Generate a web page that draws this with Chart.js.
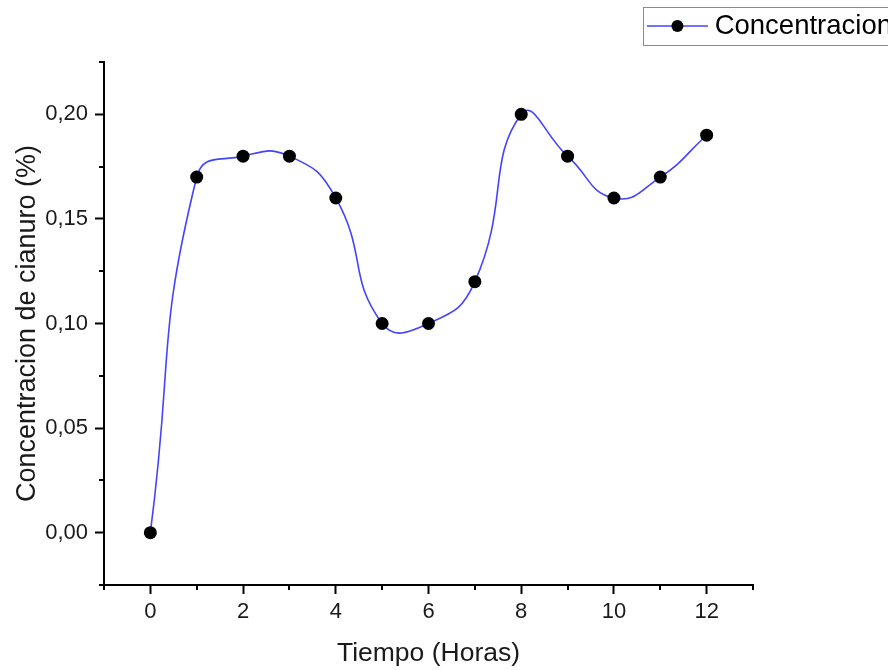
<!DOCTYPE html>
<html>
<head>
<meta charset="utf-8">
<script src="https://cdn.jsdelivr.net/npm/chart.js@4.4.1/dist/chart.umd.min.js"></script>
<style>
    html, body { margin: 0; padding: 0; background: #fff; overflow: hidden; }
    #wrap { width: 888px; height: 670px; overflow: hidden; }
    #box { width: 900px; height: 670px; position: relative; }
</style>
</head>
<body>
<div id="wrap"><div id="box"><canvas id="chart"></canvas></div></div>
<script>
const horas = [0, 1, 2, 3, 4, 5, 6, 7, 8, 9, 10, 11, 12];
const cianuro = [0.00, 0.17, 0.18, 0.18, 0.16, 0.10, 0.10, 0.12, 0.20, 0.18, 0.16, 0.17, 0.19];
const xMajor = [0, 2, 4, 6, 8, 10, 12];
const xMinor = [-1, 1, 3, 5, 7, 9, 11, 13];
const yMajor = [0, 0.05, 0.10, 0.15, 0.20];
const yMinor = [-0.025, 0.025, 0.075, 0.125, 0.175, 0.225];
const serieNombre = 'Concentracion';

const FONT = "'Liberation Sans', Arial, sans-serif";
const TEXT = '#1a1a1a';
const LINE_BLUE = '#4343ff';

// ticks menores y marco de la leyenda
const extras = {
    id: 'extras',
    afterDraw(chart) {
        const c = chart.ctx;
        const sx = chart.scales.x;
        const sy = chart.scales.y;
        c.save();
        c.strokeStyle = '#000';
        c.lineWidth = 2;
        c.beginPath();
        xMinor.forEach(v => {
            const px = Math.round(sx.getPixelForValue(v));
            c.moveTo(px, sx.top);
            c.lineTo(px, sx.top + 5);
        });
        yMinor.forEach(v => {
            const py = Math.round(sy.getPixelForValue(v));
            c.moveTo(sy.right, py);
            c.lineTo(sy.right - 5, py);
        });
        c.stroke();

        const hb = chart.legend.legendHitBoxes[0];
        if (hb) {
            const cy = hb.top + hb.height / 2;
            c.lineWidth = 1;
            c.strokeStyle = '#8a8a8a';
            c.strokeRect(Math.round(hb.left - 4) + 0.5, Math.round(cy - 19) + 0.5, 400, 38);
            c.strokeStyle = LINE_BLUE;
            c.lineWidth = 1.5;
            c.beginPath();
            c.moveTo(hb.left, cy);
            c.lineTo(hb.left + 61, cy);
            c.stroke();
            c.fillStyle = '#000';
            c.beginPath();
            c.arc(hb.left + 30.5, cy, 6, 0, Math.PI * 2);
            c.fill();
        }
        c.restore();
    }
};

new Chart(document.getElementById('chart'), {
    type: 'line',
    data: {
        labels: horas,
        datasets: [{
            label: serieNombre,
            data: horas.map((h, i) => ({ x: h, y: cianuro[i] })),
            yAxisID: 'y',
            borderColor: LINE_BLUE,
            borderWidth: 1.6,
            tension: 0.5,
            pointRadius: 6.5,
            pointBackgroundColor: '#000',
            pointBorderColor: '#000',
            pointBorderWidth: 0,
            fill: false
        }]
    },
    options: {
        responsive: true,
        maintainAspectRatio: false,
        animation: false,
        layout: { padding: { top: 0, left: 0, bottom: 0, right: 8 } },
        plugins: {
            tooltip: { enabled: false },
            legend: {
                position: 'top',
                align: 'end',
                labels: {
                    font: { family: FONT, size: 27.5 },
                    color: TEXT,
                    boxWidth: 54,
                    boxHeight: 52,
                    padding: 0,
                    generateLabels: () => [{
                        text: serieNombre,
                        fillStyle: 'rgba(0,0,0,0)',
                        strokeStyle: 'rgba(0,0,0,0)',
                        lineWidth: 0,
                        datasetIndex: 0
                    }]
                }
            }
        },
        scales: {
            x: {
                type: 'linear',
                min: -1,
                max: 13,
                afterBuildTicks: s => { s.ticks = xMajor.map(v => ({ value: v })); },
                afterFit: s => { s.height = 85; },
                ticks: {
                    font: { family: FONT, size: 22 },
                    color: TEXT,
                    padding: 5,
                    callback: v => String(v)
                },
                grid: {
                    drawOnChartArea: false,
                    drawTicks: true,
                    tickLength: 9,
                    tickWidth: 2,
                    tickColor: '#000'
                },
                border: { display: true, color: '#000', width: 2 },
                title: {
                    display: true,
                    text: 'Tiempo (Horas)',
                    font: { family: FONT, size: 26.5 },
                    color: TEXT,
                    padding: { top: 0, bottom: 0 }
                }
            },
            y: {
                type: 'linear',
                position: 'left',
                min: -0.025,
                max: 0.225,
                afterBuildTicks: s => { s.ticks = yMajor.map(v => ({ value: v })); },
                afterFit: s => { s.width = 104; },
                ticks: {
                    font: { family: FONT, size: 22 },
                    color: TEXT,
                    padding: 7,
                    callback: v => v.toFixed(2).replace('.', ',')
                },
                grid: {
                    drawOnChartArea: false,
                    drawTicks: true,
                    tickLength: 9,
                    tickWidth: 2,
                    tickColor: '#000'
                },
                border: { display: true, color: '#000', width: 2 },
                title: {
                    display: true,
                    text: 'Concentracion de cianuro (%)',
                    font: { family: FONT, size: 27 },
                    color: TEXT,
                    padding: { top: 11, bottom: 0 }
                }
            },
            // eje vacío para dejar el espacio de la derecha
            yR: {
                position: 'right',
                display: true,
                grid: { display: false },
                border: { display: false },
                ticks: { display: false },
                afterFit: s => { s.width = 139; }
            }
        }
    },
    plugins: [extras]
});
</script>
</body>
</html>
